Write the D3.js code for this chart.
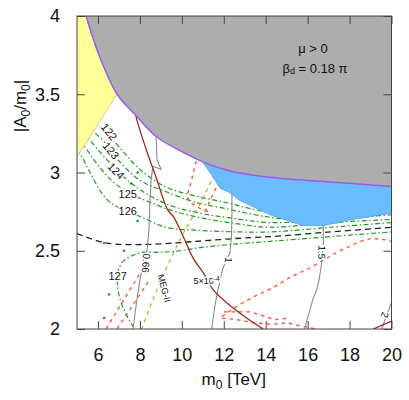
<!DOCTYPE html>
<html>
<head>
<meta charset="utf-8">
<script src="https://cdn.jsdelivr.net/npm/d3@7"></script>
<style>
  body { margin: 0; background: #fff; }
  text { font-family: "Liberation Sans", Arial, sans-serif; fill: #111; }
</style>
</head>
<body>
<div id="chart"></div>
<script>
// axis ticks
var m0Ticks = [6, 8, 10, 12, 14, 16, 18, 20];
var aTicks = [2, 2.5, 3, 3.5, 4];

// boundary of the excluded (grey) region, [m0, |A0/m0|]
var greyEdge = [[5.43, 4.0], [6.05, 3.75], [6.91, 3.5], [7.77, 3.37], [8.77, 3.23], [9.91, 3.14],
  [11.15, 3.06], [12.30, 3.01], [14.20, 2.97], [17.07, 2.94], [20.0, 2.91]];
// yellow region (lower edge)
var yellowEdge = [[7.2, 3.56], [5.0, 3.10]];
// blue region lower edge
var blueEdge = [[10.8, 3.12], [11.0, 3.065], [11.44, 2.98], [11.82, 2.90], [12.30, 2.87], [12.77, 2.82],
  [13.25, 2.79], [14.20, 2.73], [15.78, 2.66], [16.73, 2.66], [18.16, 2.70], [20.0, 2.74]];

// Higgs mass contours
var mh122 = [[5.67, 3.34], [5.91, 3.31], [6.57, 3.23], [7.29, 3.12], [8.00, 3.02], [9.20, 2.91], [10.63, 2.85],
  [12.06, 2.81], [13.25, 2.77], [14.68, 2.73], [16.11, 2.70]];
var mh123 = [[5.48, 3.30], [5.72, 3.27], [6.34, 3.19], [6.96, 3.08], [8.00, 2.95], [9.20, 2.88], [10.63, 2.81],
  [12.06, 2.77], [13.49, 2.73], [14.92, 2.70], [16.35, 2.68], [17.54, 2.68]];
var mh124 = [[5.29, 3.25], [5.52, 3.22], [6.10, 3.13], [6.86, 3.02], [8.00, 2.89], [9.44, 2.79], [10.87, 2.74],
  [12.30, 2.71], [14.20, 2.68], [17.07, 2.70], [20.0, 2.73]];
var mh125 = [[5.10, 3.20], [5.33, 3.17], [6.10, 3.03], [6.81, 2.93], [7.77, 2.85], [8.48, 2.81], [9.67, 2.75],
  [11.34, 2.70], [12.77, 2.67], [14.20, 2.65], [17.07, 2.68], [20.0, 2.70]];
var mh126 = [[4.95, 3.14], [5.14, 3.12], [5.62, 3.00], [6.34, 2.84], [7.05, 2.77], [8.00, 2.72], [9.24, 2.65],
  [10.87, 2.63], [12.77, 2.62], [14.20, 2.62], [17.07, 2.65], [20.0, 2.68]];
var mh127 = [[7.72, 2.01], [7.48, 2.06], [7.10, 2.17], [6.94, 2.27], [6.94, 2.36], [7.18, 2.43], [7.66, 2.47],
  [8.15, 2.49], [8.96, 2.49], [9.91, 2.50], [10.87, 2.52], [12.30, 2.54], [14.20, 2.56], [16.11, 2.58],
  [18.02, 2.60], [20.0, 2.62]];
var mhLabels = [
  {t: "122", m: 6.53, a: 3.26, r: 50}, {t: "123", m: 6.62, a: 3.14, r: 50}, {t: "124", m: 6.86, a: 3.01, r: 45},
  {t: "125", m: 7.42, a: 2.86, r: 0}, {t: "126", m: 7.42, a: 2.75, r: 0}, {t: "127", m: 6.94, a: 2.34, r: 0}];
var stray = [[7.24, 2.50], [7.89, 2.69], [6.29, 2.55], [7.58, 2.93], [7.89, 3.00], [6.29, 2.07], [6.53, 2.22]];

// black dashed
var blackDash = [[5.0, 2.61], [6.38, 2.55], [8.15, 2.54], [9.72, 2.55], [10.68, 2.56], [12.77, 2.58],
  [14.20, 2.59], [17.07, 2.62], [20.0, 2.65]];

// grey contours
var g066 = [[8.77, 3.23], [8.82, 3.08], [9.01, 3.02], [8.62, 3.04], [8.53, 2.95], [8.48, 2.82], [8.43, 2.63],
  [8.34, 2.50], [8.24, 2.45], [8.05, 2.35], [7.86, 2.19], [7.67, 2.00]];
var g1 = [[12.39, 2.95], [12.39, 2.73], [12.37, 2.60], [12.30, 2.49], [11.96, 2.39], [11.72, 2.25],
  [11.58, 2.15], [11.42, 2.00]];
var g15 = [[16.73, 2.82], [16.75, 2.66], [16.75, 2.55], [16.67, 2.42], [16.54, 2.31], [16.43, 2.25],
  [16.25, 2.19], [16.11, 2.12], [15.97, 2.06], [15.87, 2.00]];
var g2 = [[20.1, 2.22], [20.0, 2.17], [19.53, 2.00]];
var greyLabels = [
  {t: "0.66", m: 8.29, a: 2.42, r: 95}, {t: "1", m: 12.23, a: 2.44, r: 95},
  {t: "1.5", m: 16.67, a: 2.49, r: 92}, {t: "2", m: 19.69, a: 2.09, r: 105}];

// brown (BR) contour
var brown1 = [[7.78, 3.40], [7.81, 3.36], [8.05, 3.25], [8.37, 3.12], [8.77, 2.97], [9.33, 2.76], [9.59, 2.72],
  [10.07, 2.59], [10.55, 2.45], [11.02, 2.36], [11.50, 2.25], [12.30, 2.15], [13.09, 2.07], [13.88, 2.00]];
var brown2 = [[19.13, 2.00], [20.0, 2.05], [20.2, 2.06]];

// MEG-II
var megII = [[11.55, 2.99], [11.42, 2.95], [10.87, 2.80], [10.07, 2.61], [9.44, 2.44], [8.72, 2.22], [8.09, 2.00]];

// red dashed contours
var red1 = [[8.53, 2.47], [6.38, 2.00]];
var red2 = [[8.39, 2.30], [6.91, 2.00]];
var red3 = [[10.76, 3.12], [10.72, 3.09], [10.48, 2.96], [10.25, 2.85], [10.39, 2.81], [10.87, 2.77], [11.44, 2.74]];
var red4 = [[11.63, 2.90], [11.06, 2.74]];
var red5 = [[11.92, 2.08], [12.68, 2.15], [13.49, 2.21], [14.30, 2.26], [15.16, 2.33], [16.11, 2.39],
  [17.40, 2.49], [18.50, 2.56], [19.07, 2.58], [19.69, 2.57], [20.0, 2.56]];
var red6 = [[11.92, 2.07], [12.63, 2.06], [13.39, 2.04], [14.35, 2.03], [15.01, 2.04], [15.63, 2.02], [16.44, 2.00]];
var red7 = [[12.01, 2.11], [13.25, 2.11], [14.44, 2.06], [15.16, 2.07]];

var svgWidth = 409;
var svgHeight = 400;
var margin = {left: 77, right: 391.5, top: 16, bottom: 329};

var svg = d3.select("#chart").append("svg")
  .attr("width", svgWidth)
  .attr("height", svgHeight);

var x = d3.scaleLinear().domain([5, 20]).range([margin.left, margin.right]);
var y = d3.scaleLinear().domain([2, 4]).range([margin.bottom, margin.top]);

svg.append("clipPath").attr("id", "plot")
  .append("rect").attr("x", margin.left).attr("y", margin.top)
  .attr("width", margin.right - margin.left).attr("height", margin.bottom - margin.top);

var plot = svg.append("g").attr("clip-path", "url(#plot)");

var smooth = d3.line().x(d => x(d[0])).y(d => y(d[1])).curve(d3.curveCatmullRom.alpha(0.5));
var straight = d3.line().x(d => x(d[0])).y(d => y(d[1]));

function draw(data, color, dash, width, gen) {
  plot.append("path")
    .attr("d", (gen || smooth)(data))
    .attr("fill", "none")
    .attr("stroke", color)
    .attr("stroke-width", width)
    .attr("stroke-dasharray", dash);
}

// lines under the shaded regions
var green = "#1f9a1f";
[mh122, mh123, mh124, mh125, mh126, mh127].forEach(function(d) {
  draw(d, green, "5,2.5,1.5,2.5", 1.2);
});
plot.selectAll(".dot").data(stray).enter().append("circle")
  .attr("cx", d => x(d[0])).attr("cy", d => y(d[1])).attr("r", 1.3).attr("fill", green);

draw(blackDash, "#222", "6,4", 1.3);
[red1, red2, red3, red4, red5, red6, red7].forEach(function(d) {
  draw(d, "#ff4c2c", "3.5,4", 1.3, straight);
});
draw(megII, "#b5b52a", "4,4", 1.2);
[g066, g1, g15, g2].forEach(function(d) {
  draw(d, "#8a8a8a", null, 1.1, straight);
});
draw(brown1, "#a0281a", null, 1.3);
draw(brown2, "#a0281a", null, 1.3, straight);

// blue region
var blueTop = [[20.0, 3.12]];
plot.append("path")
  .attr("d", straight(blueEdge.concat([[20.0, 2.74]]).concat(blueTop)) + "Z")
  .attr("fill", "#6bbcff")
  .attr("stroke", "#4a90d0")
  .attr("stroke-width", 0.6);

// yellow region
plot.append("path")
  .attr("d", straight([[5.0, 4.0], [8.0, 4.0]].concat(yellowEdge)) + "Z")
  .attr("fill", "#ffff99");
draw(yellowEdge, "#c8c860", null, 0.8, straight);

// grey region
plot.append("path")
  .attr("d", smooth(greyEdge) + "L" + x(20.2) + "," + y(4.1) + "L" + x(5.43) + "," + y(4.1) + "Z")
  .attr("fill", "#adadad");
draw(greyEdge, "#9a5cf0", null, 1.5);

// contour labels
function label(d, size) {
  plot.append("text")
    .attr("transform", `translate(${x(d.m)},${y(d.a)}) rotate(${d.r})`)
    .attr("text-anchor", "middle")
    .attr("dy", "0.35em")
    .attr("font-size", size)
    .attr("stroke", "#fff")
    .attr("stroke-width", 3)
    .attr("paint-order", "stroke")
    .text(d.t);
}
mhLabels.forEach(d => label(d, "11px"));
greyLabels.forEach(d => label(d, "10px"));

var brText = plot.append("text")
  .attr("x", x(11.18)).attr("y", y(2.31))
  .attr("text-anchor", "middle")
  .attr("dy", "0.35em")
  .attr("font-size", "9px")
  .attr("stroke", "#fff").attr("stroke-width", 3).attr("paint-order", "stroke");
brText.append("tspan").text("5×10");
brText.append("tspan").attr("dy", "-0.45em").attr("font-size", "6.5px").text("-4");

plot.append("text")
  .attr("transform", `translate(${x(9.16)},${y(2.26)}) rotate(75)`)
  .attr("text-anchor", "middle")
  .attr("dy", "0.35em")
  .attr("font-size", "9px")
  .attr("stroke", "#fff").attr("stroke-width", 3).attr("paint-order", "stroke")
  .text("MEG-II");

// annotation
svg.append("text")
  .attr("x", 313).attr("y", 53)
  .attr("text-anchor", "middle")
  .attr("font-size", "13px")
  .text("μ > 0");
var beta = svg.append("text")
  .attr("x", 315).attr("y", 73)
  .attr("text-anchor", "middle")
  .attr("font-size", "13px");
beta.append("tspan").text("β");
beta.append("tspan").attr("font-size", "9px").attr("dy", "1").text("d");
beta.append("tspan").attr("dy", "-1").text(" = 0.18 π");

// axes with inward ticks
var tickLen = 8;
var bottomAxis = d3.axisBottom(x).tickValues(m0Ticks).tickSize(-tickLen).tickPadding(19).tickFormat(d3.format("d"));
var topAxis = d3.axisTop(x).tickValues(m0Ticks).tickSize(-tickLen).tickFormat("");
var leftAxis = d3.axisLeft(y).tickValues(aTicks).tickSize(-tickLen).tickPadding(17).tickFormat(d3.format("~g"));
var rightAxis = d3.axisRight(y).tickValues(aTicks).tickSize(-tickLen).tickFormat("");

function styleAxis(g) {
  g.select(".domain").remove();
  g.selectAll(".tick line").attr("stroke", "#444");
  g.selectAll(".tick text").attr("font-size", "18px").attr("font-family", "Liberation Sans, Arial, sans-serif").attr("fill", "#111");
}

svg.append("g").attr("transform", `translate(0,${margin.bottom})`).call(bottomAxis).call(styleAxis);
svg.append("g").attr("transform", `translate(0,${margin.top})`).call(topAxis).call(styleAxis);
svg.append("g").attr("transform", `translate(${margin.left},0)`).call(leftAxis).call(styleAxis);
svg.append("g").attr("transform", `translate(${margin.right},0)`).call(rightAxis).call(styleAxis);

svg.append("rect")
  .attr("x", margin.left).attr("y", margin.top)
  .attr("width", margin.right - margin.left).attr("height", margin.bottom - margin.top)
  .attr("fill", "none").attr("stroke", "#444").attr("stroke-width", 1);

// axis titles
var xTitle = svg.append("text")
  .attr("x", (margin.left + margin.right) / 2 - 0.5).attr("y", 385)
  .attr("text-anchor", "middle")
  .attr("font-size", "17px");
xTitle.append("tspan").text("m");
xTitle.append("tspan").attr("font-size", "12px").attr("dy", "4").text("0");
xTitle.append("tspan").attr("dy", "-4").text(" [TeV]");

var yTitle = svg.append("text")
  .attr("transform", "translate(26,106) rotate(-90)")
  .attr("text-anchor", "middle")
  .attr("font-size", "17px");
yTitle.append("tspan").text("|A");
yTitle.append("tspan").attr("font-size", "12px").attr("dy", "4").text("0");
yTitle.append("tspan").attr("dy", "-4").text("/m");
yTitle.append("tspan").attr("font-size", "12px").attr("dy", "4").text("0");
yTitle.append("tspan").attr("dy", "-4").text("|");
</script>
</body>
</html>
